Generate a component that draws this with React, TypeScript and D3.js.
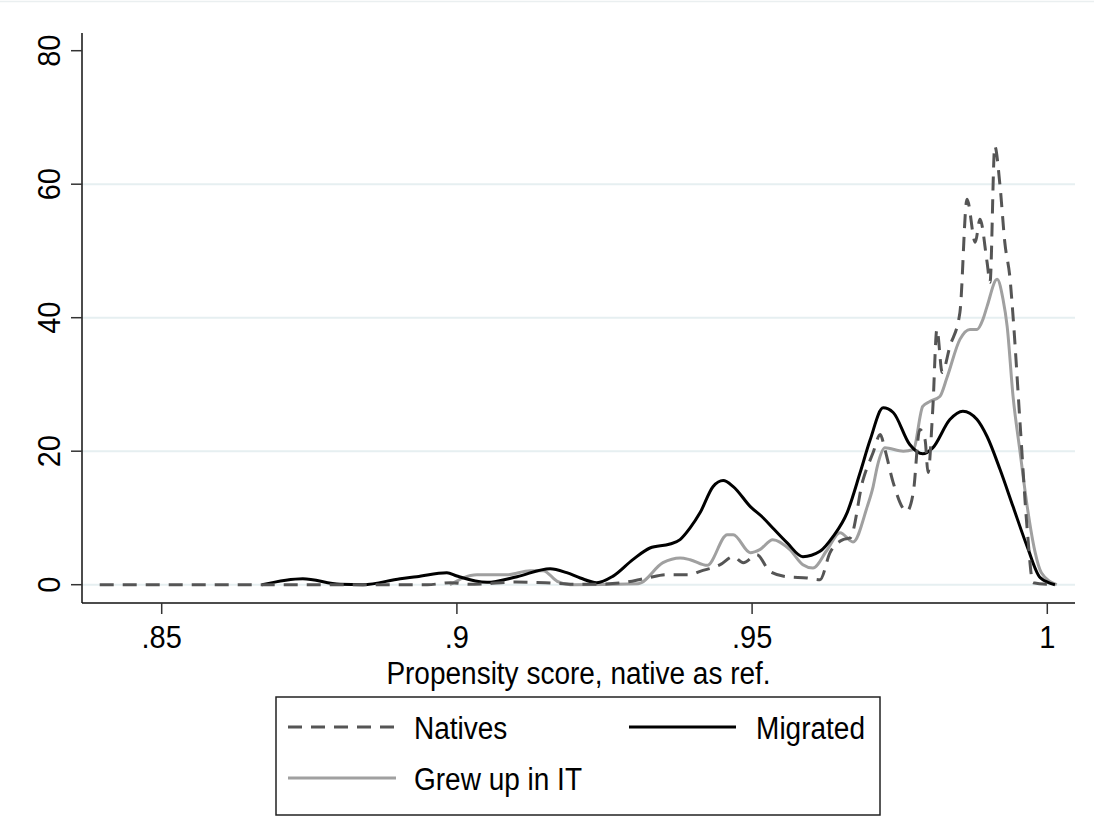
import React from "react";
import * as d3 from "d3";

// ---- data ----
const xTicks = [0.85, 0.9, 0.95, 1];
const xTickLabels = [".85", ".9", ".95", "1"];
const yTicks = [0, 20, 40, 60, 80];
const yGrid = [0, 20, 40, 60];

const natives: [number, number][] = [
  [0.8395, 0], [0.895, 0], [0.899, 0.3], [0.902, 0.05], [0.906, 0.2], [0.91, 0.4],
  [0.915, 0.3], [0.92, 0.05], [0.925, 0.1], [0.9281, 0.3], [0.9322, 1], [0.9356, 1.5],
  [0.9395, 1.5], [0.9412, 2], [0.9446, 3], [0.9468, 4.2], [0.9485, 3.3], [0.9508, 4.5],
  [0.953, 2], [0.9559, 1.2], [0.9593, 1], [0.9615, 0.75], [0.9632, 4.8], [0.9654, 6.75],
  [0.9666, 7], [0.9688, 15.75], [0.9705, 19.8], [0.9717, 22.5], [0.9725, 20.25],
  [0.9739, 15.3], [0.9762, 11], [0.9773, 13.8], [0.9784, 23.25], [0.9793, 21.7],
  [0.9798, 16.8], [0.9806, 26.25], [0.9813, 38.25], [0.9822, 31.8], [0.9835, 35.7],
  [0.9852, 40.8], [0.9864, 57.75], [0.9878, 51.3], [0.9886, 54.75], [0.9898, 48.3],
  [0.9903, 45.3], [0.9911, 65.7], [0.992, 59.7], [0.9928, 51.3], [0.9937, 45.75],
  [0.9942, 40.2], [0.9954, 24], [0.9966, 8.25], [0.9976, 0.3], [1.0011, 0],
];

const migrated: [number, number][] = [
  [0.867, 0], [0.8739, 0.9], [0.8802, 0.05], [0.8841, 0], [0.8904, 0.9], [0.8932, 1.2],
  [0.8983, 1.8], [0.9, 1.3], [0.9051, 0.35], [0.9102, 1.2], [0.9158, 2.4], [0.9186, 1.8],
  [0.9209, 1.0], [0.9237, 0.3], [0.9264, 1.25], [0.9298, 3.75], [0.9327, 5.5],
  [0.9361, 6.1], [0.9378, 6.75], [0.9395, 8.5], [0.9412, 10.8], [0.9434, 14.7],
  [0.9451, 15.6], [0.9468, 14.7], [0.9497, 11.7], [0.9519, 10], [0.9535, 8.5],
  [0.9559, 6.3], [0.9586, 4.2], [0.9615, 5], [0.9637, 7.2], [0.9661, 10.8],
  [0.9683, 16.8], [0.97, 21.7], [0.9722, 26.5], [0.9739, 25.8], [0.9767, 21],
  [0.9789, 19.6], [0.9806, 20.5], [0.9835, 24.75], [0.9857, 26], [0.9881, 24.75],
  [0.9898, 22.2], [0.992, 17.25], [0.9942, 11.7], [0.9966, 5.7], [0.9988, 1.05],
  [1.0013, 0],
];

const grewUp: [number, number][] = [
  [0.8988, 0], [0.9034, 1.5], [0.9085, 1.5], [0.9124, 2.1], [0.9146, 2.1], [0.917, 0.5],
  [0.9192, 0], [0.9307, 0.15], [0.9349, 3.3], [0.9378, 4], [0.9395, 3.75], [0.9424, 2.9],
  [0.9458, 7.5], [0.9468, 7.5], [0.9497, 4.8], [0.9513, 5.25], [0.9535, 6.75],
  [0.9564, 5.25], [0.9586, 3], [0.9603, 2.5], [0.9627, 5.2], [0.9649, 7.8],
  [0.9671, 6.4], [0.9695, 11.7], [0.9705, 14.7], [0.9712, 17.7], [0.9725, 20.5],
  [0.9756, 20], [0.9773, 20.25], [0.9789, 26.7], [0.9801, 27.45], [0.9818, 28.2],
  [0.983, 31], [0.9852, 36.75], [0.9869, 38.25], [0.9881, 38.25], [0.9891, 39.75],
  [0.9898, 41.7], [0.9915, 45.75], [0.9925, 42.75], [0.9932, 38.7], [0.9942, 28.2],
  [0.9954, 19.8], [0.9966, 11.7], [0.9979, 5.0], [0.999, 1.8], [1.0016, 0],
];

const seriesNames = ["Natives", "Migrated", "Grew up in IT"];
const xTitle = "Propensity score, native as ref.";

export default function App() {
  const W = 1094;
  const H = 823;
  const left = 82;
  const right = 1075;
  const yZero = 584.7;
  const yTop80 = 50.7;
  const xAxisY = 603;
  const font = "'Liberation Sans', Arial, Helvetica, sans-serif";

  const x = d3.scaleLinear().domain([0.85, 1]).range([161.7, 1047.3]);
  const y = d3.scaleLinear().domain([0, 80]).range([yZero, yTop80]);

  const line = d3
    .line<[number, number]>()
    .x((d) => x(d[0]))
    .y((d) => y(d[1]))
    .curve(d3.curveMonotoneX);

  const dash = "14,9";
  const lw = 3;
  const cNat = "#555555";
  const cMig = "#000000";
  const cGrew = "#a0a0a0";
  const sy = 1.1; // text vertical stretch

  const T = (props: { x: number; y: number; anchor?: string; size?: number; children: string }) => (
    <text
      transform={`translate(${props.x},${props.y}) scale(1,${sy})`}
      textAnchor={props.anchor || "start"}
      fontSize={props.size || 28}
      fill="#000"
    >
      {props.children}
    </text>
  );

  return (
    <svg
      width={W}
      height={H}
      style={{ position: "absolute", left: 0, top: 0, background: "#fff" }}
      fontFamily={font}
    >
      <rect x={0} y={0} width={W} height={H} fill="#fff" />
      <line x1={0} x2={W} y1={1.5} y2={1.5} stroke="#eaeff0" strokeWidth={1.5} />

      {/* gridlines */}
      {yGrid.map((v) => (
        <line key={"g" + v} x1={left} x2={right} y1={y(v)} y2={y(v)} stroke="#e6eff1" strokeWidth={2} />
      ))}

      {/* series */}
      <path d={line(grewUp) || ""} fill="none" stroke={cGrew} strokeWidth={lw} strokeLinejoin="round" />
      <path d={line(migrated) || ""} fill="none" stroke={cMig} strokeWidth={lw} strokeLinejoin="round" />
      <path d={line(natives) || ""} fill="none" stroke={cNat} strokeWidth={lw} strokeDasharray={dash} />

      {/* axes */}
      <line x1={left} x2={left} y1={33} y2={xAxisY} stroke="#111" strokeWidth={1.5} />
      <line x1={left} x2={right} y1={xAxisY} y2={xAxisY} stroke="#111" strokeWidth={1.5} />
      {yTicks.map((v) => (
        <g key={"yt" + v}>
          <line x1={left - 11} x2={left} y1={y(v)} y2={y(v)} stroke="#333" strokeWidth={1.5} />
          <text
            transform={`translate(60,${y(v)}) rotate(-90) scale(1,${sy})`}
            textAnchor="middle"
            fontSize={29}
            fill="#000"
          >
            {String(v)}
          </text>
        </g>
      ))}
      {xTicks.map((v, i) => (
        <g key={"xt" + v}>
          <line x1={x(v)} x2={x(v)} y1={xAxisY} y2={xAxisY + 11} stroke="#333" strokeWidth={1.5} />
          <T x={x(v)} y={648} anchor="middle" size={29}>{xTickLabels[i]}</T>
        </g>
      ))}
      <T x={(left + right) / 2} y={684} anchor="middle">{xTitle}</T>

      {/* legend */}
      <rect x={276} y={697} width={604} height={118} fill="#fff" stroke="#222" strokeWidth={1.5} />
      <line x1={288} x2={396} y1={727} y2={727} stroke={cNat} strokeWidth={lw} strokeDasharray={dash} />
      <T x={414} y={739}>{seriesNames[0]}</T>
      <line x1={629} x2={736} y1={727} y2={727} stroke={cMig} strokeWidth={lw} />
      <T x={865} y={739} anchor="end">{seriesNames[1]}</T>
      <line x1={288} x2={396} y1={778} y2={778} stroke={cGrew} strokeWidth={lw} />
      <T x={414} y={790}>{seriesNames[2]}</T>
    </svg>
  );
}
